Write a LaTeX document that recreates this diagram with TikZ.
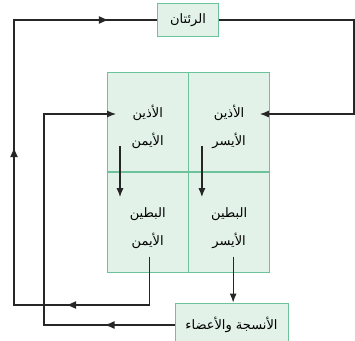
\documentclass[tikz,border=0pt]{standalone}
\usepackage{fontspec}
\newfontfamily\arabicfont[Script=Arabic]{DejaVu Sans}
\TeXXeTstate=1
\usetikzlibrary{arrows.meta, positioning, decorations.markings}

\definecolor{boxfill}{HTML}{E2F2E9}
\definecolor{boxline}{HTML}{6CC39B}
\definecolor{linecol}{HTML}{262626}

% first line of a cell, set a little lower
\newcommand{\celltext}[2]{\rule{0pt}{22pt}\beginR #1\endR\\\beginR #2\endR}

\begin{document}
\begin{tikzpicture}[x=1pt, y=-1pt,
    box/.style={rectangle, draw=boxline, fill=boxfill, line width=0.9pt, align=center, inner sep=0pt,
        font=\arabicfont\fontsize{13}{28}\selectfont},
    cell/.style={box, minimum width=80.5pt, minimum height=99.5pt},
    arrow/.style={-{Latex[length=9pt,width=7pt]}, line width=1.2pt, color=linecol},
    link/.style={line width=1.2pt, color=linecol},
    midarrow/.style={postaction={decorate, decoration={markings,
        mark=at position #1 with {\arrow{Latex[length=10pt,width=8pt]}}}}}
]
\useasboundingbox (0,0) rectangle (355,340);

\node[box, minimum width=61pt, minimum height=33pt] (lungs) at (188,20) {\beginR الرئتان\endR};
\node[cell] (ra) at (147.75,122) {\celltext{الأذين}{الأيمن}};
\node[cell, right=0pt of ra] (la) {\celltext{الأذين}{الأيسر}};
\node[cell, below=0pt of ra] (rv) {\celltext{البطين}{الأيمن}};
\node[cell, below=0pt of la] (lv) {\celltext{البطين}{الأيسر}};
\node[box, minimum width=113pt, minimum height=44pt] (tissue) at (231.5,325) {\beginR الأنسجة والأعضاء\endR};

\coordinate (railL) at (14,305);
\coordinate (railM) at (44,114);
\coordinate (railR) at (354,0);
\coordinate (laIn) at ([shift={(-10pt,8pt)}]la.east);
\coordinate (raIn) at ([shift={(9pt,8pt)}]ra.west);
\coordinate (rvOut) at ([shift={(2pt,16pt)}]rv.south);
\coordinate (lvOut) at ([shift={(4pt,16pt)}]lv.south);

% inside the heart
\draw[arrow] ([shift={(-27.75pt,26pt)}]ra.south) -- ([shift={(-27.75pt,-25pt)}]rv.north);
\draw[arrow] ([shift={(-27.25pt,26pt)}]la.south) -- ([shift={(-27.25pt,-25pt)}]lv.north);

% circulation
\draw[link, midarrow=132pt, midarrow=342pt, midarrow=564pt] (rvOut) |- (railL) |- (lungs.west);
\draw[arrow] (lungs.east) -- (lungs.east -| railR) |- (laIn);
\draw[arrow] (lvOut) -- (lvOut |- tissue.north);
\draw[arrow, midarrow=70pt] (tissue.west) -| (railM) -- (raIn);

\end{tikzpicture}
\end{document}
